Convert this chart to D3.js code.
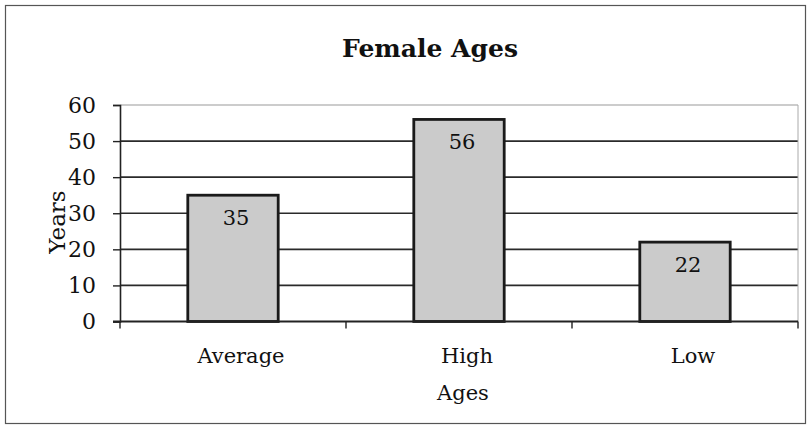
<!DOCTYPE html>
<html>
<head>
<meta charset="utf-8">
<script src="https://cdn.jsdelivr.net/npm/d3@7"></script>
<style>
  html, body { margin: 0; padding: 0; background: #fff; }
  svg { display: block; }
</style>
</head>
<body>
<div id="chart"></div>
<script>
// Female ages summary
const categories = ["Average", "High", "Low"];
const ages = [35, 56, 22];
const yTicks = [0, 10, 20, 30, 40, 50, 60];

const W = 809, H = 427;
const plot = { left: 120, right: 798, top: 105, bottom: 321.5 };
const serif = "'DejaVu Serif', 'Liberation Serif', serif";

const svg = d3.select("#chart").append("svg")
  .attr("width", W).attr("height", H);

// chart frame
svg.append("rect")
  .attr("x", 5.5).attr("y", 5.5)
  .attr("width", 800).attr("height", 418)
  .attr("fill", "#fff").attr("stroke", "#555").attr("stroke-width", 1.2);

const x = d3.scaleBand()
  .domain(categories)
  .range([plot.left, plot.right])
  .paddingInner(0.6).paddingOuter(0.3);

const y = d3.scaleLinear().domain([0, 60]).range([plot.bottom, plot.top]);

// horizontal gridlines
svg.append("g").selectAll("line").data(yTicks.filter(d => d > 0)).join("line")
  .attr("x1", plot.left).attr("x2", plot.right)
  .attr("y1", d => y(d)).attr("y2", d => y(d))
  .attr("stroke", d => d === 60 ? "#999" : "#2a2a2a")
  .attr("stroke-width", d => d === 60 ? 1 : 1.6);

// right edge of plot area
svg.append("line")
  .attr("x1", plot.right).attr("x2", plot.right)
  .attr("y1", plot.top).attr("y2", plot.bottom)
  .attr("stroke", "#aaa").attr("stroke-width", 1);

// bars
svg.append("g").selectAll("rect").data(categories).join("rect")
  .attr("x", d => x(d))
  .attr("y", (d, i) => y(ages[i]))
  .attr("width", x.bandwidth())
  .attr("height", (d, i) => y(0) - y(ages[i]))
  .attr("fill", "#cbcbcb")
  .attr("stroke", "#1a1a1a").attr("stroke-width", 2.8);

// value labels inside bars
svg.append("g").selectAll("text").data(categories).join("text")
  .attr("x", d => x(d) + x.bandwidth() / 2 + 3)
  .attr("y", (d, i) => y(ages[i]) + 30)
  .attr("text-anchor", "middle")
  .attr("font-family", serif).attr("font-size", 21).attr("fill", "#111")
  .text((d, i) => ages[i]);

// y axis
const yAxis = svg.append("g")
  .attr("transform", `translate(${plot.left},0)`)
  .call(d3.axisLeft(y).tickValues(yTicks).tickSize(7).tickPadding(17));
yAxis.select(".domain").attr("stroke", "#222").attr("stroke-width", 1.6);
yAxis.selectAll(".tick line").attr("stroke", "#222").attr("stroke-width", 1.4);
yAxis.selectAll("text")
  .attr("font-family", serif).attr("font-size", 22).attr("fill", "#111");

// x axis with boundary ticks between categories
const boundaries = [plot.left, ...categories.slice(1).map(c => x(c) - x.step() * x.paddingInner() / 2), plot.right];
const xAxisG = svg.append("g");
xAxisG.append("line")
  .attr("x1", plot.left - 7).attr("x2", plot.right)
  .attr("y1", plot.bottom).attr("y2", plot.bottom)
  .attr("stroke", "#222").attr("stroke-width", 1.8);
xAxisG.selectAll("line.tick").data(boundaries).join("line")
  .attr("class", "tick")
  .attr("x1", d => d).attr("x2", d => d)
  .attr("y1", plot.bottom).attr("y2", plot.bottom + 7)
  .attr("stroke", "#222").attr("stroke-width", 1.4);
xAxisG.selectAll("text").data(categories).join("text")
  .attr("x", d => x(d) + x.bandwidth() / 2 + 8)
  .attr("y", 363)
  .attr("text-anchor", "middle")
  .attr("font-family", serif).attr("font-size", 21).attr("fill", "#111")
  .text(d => d);

// axis titles
svg.append("text")
  .attr("x", 463).attr("y", 400)
  .attr("text-anchor", "middle")
  .attr("font-family", serif).attr("font-size", 21).attr("fill", "#111")
  .text("Ages");

svg.append("text")
  .attr("transform", `translate(65,222) rotate(-90)`)
  .attr("text-anchor", "middle")
  .attr("font-family", serif).attr("font-size", 23).attr("fill", "#111")
  .text("Years");

// chart title
svg.append("text")
  .attr("x", 430).attr("y", 57)
  .attr("text-anchor", "middle")
  .attr("font-family", serif).attr("font-size", 25).attr("font-weight", "bold").attr("fill", "#111")
  .text("Female Ages");
</script>
</body>
</html>
